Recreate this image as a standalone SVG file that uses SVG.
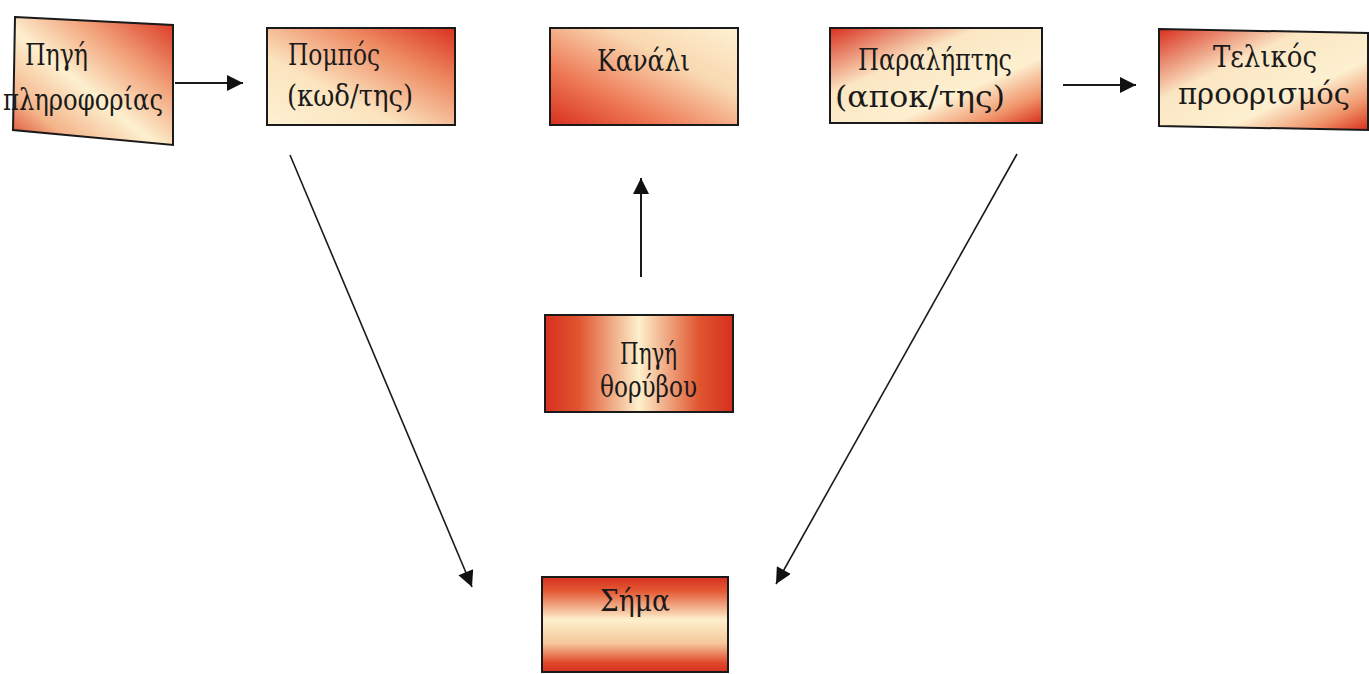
<svg xmlns="http://www.w3.org/2000/svg" width="1369" height="674" viewBox="0 0 1369 674">
  <defs>
    <style>
      .box { stroke: #1a1a1a; stroke-width: 2; }
      .lbl { font-family: "DejaVu Serif", "Liberation Serif", serif; font-stretch: condensed; font-size: 29px; fill: #1a1a1a; }
      .link { stroke: #1a1a1a; fill: none; }
    </style>
    <marker id="arrow" viewBox="0 0 10 10" refX="10" refY="5" markerWidth="17" markerHeight="16" markerUnits="userSpaceOnUse" orient="auto">
      <path d="M0,0 L10,5 L0,10 Z" fill="#111"/>
    </marker>
    <!-- red corners top-right and bottom-left, cream diagonal band -->
    <linearGradient id="gSource" x1="1" y1="0" x2="0" y2="1">
      <stop offset="0" stop-color="#d8321f"/>
      <stop offset="0.3" stop-color="#f2a27a"/>
      <stop offset="0.55" stop-color="#fdf0cf"/>
      <stop offset="0.8" stop-color="#f4b48a"/>
      <stop offset="1" stop-color="#d9442a"/>
    </linearGradient>
    <!-- red top-right fading to cream bottom-left -->
    <linearGradient id="gSender" x1="1" y1="0" x2="0" y2="1">
      <stop offset="0" stop-color="#d9321f"/>
      <stop offset="0.3" stop-color="#ee8a62"/>
      <stop offset="0.65" stop-color="#fbe4bf"/>
      <stop offset="1" stop-color="#fdf1d2"/>
    </linearGradient>
    <!-- cream top-right to red bottom-left -->
    <linearGradient id="gChannel" x1="1" y1="0" x2="0" y2="1">
      <stop offset="0" stop-color="#fdf1d2"/>
      <stop offset="0.35" stop-color="#f9d8b0"/>
      <stop offset="0.7" stop-color="#ee7a55"/>
      <stop offset="1" stop-color="#d8301e"/>
    </linearGradient>
    <!-- red top-left and bottom-right, cream between -->
    <linearGradient id="gDiag" x1="0" y1="0" x2="1" y2="1">
      <stop offset="0" stop-color="#d8301e"/>
      <stop offset="0.35" stop-color="#fbe6c3"/>
      <stop offset="0.65" stop-color="#fdf0d0"/>
      <stop offset="0.85" stop-color="#f0946a"/>
      <stop offset="1" stop-color="#d8301e"/>
    </linearGradient>
    <!-- red sides, cream centre column -->
    <linearGradient id="gNoise" x1="0" y1="0" x2="1" y2="0">
      <stop offset="0" stop-color="#d6301e"/>
      <stop offset="0.18" stop-color="#e0552f"/>
      <stop offset="0.5" stop-color="#fdf0cc"/>
      <stop offset="0.82" stop-color="#e0552f"/>
      <stop offset="1" stop-color="#d6301e"/>
    </linearGradient>
    <!-- red top and bottom, cream centre row -->
    <linearGradient id="gSignal" x1="0" y1="0" x2="0" y2="1">
      <stop offset="0" stop-color="#d6301e"/>
      <stop offset="0.15" stop-color="#e45a35"/>
      <stop offset="0.45" stop-color="#fdf0cc"/>
      <stop offset="0.7" stop-color="#f6c79a"/>
      <stop offset="0.9" stop-color="#e04a2c"/>
      <stop offset="1" stop-color="#d6301e"/>
    </linearGradient>
  </defs>

  <rect width="1369" height="674" fill="#ffffff"/>

  <g id="connectors" marker-end="url(#arrow)">
    <line class="link" x1="175" y1="83" x2="243" y2="83" stroke-width="2"/>
    <line class="link" x1="1063" y1="85" x2="1136" y2="85" stroke-width="2"/>
    <line class="link" x1="641" y1="277" x2="641" y2="178" stroke-width="2"/>
    <line class="link" x1="290" y1="155" x2="472" y2="587" stroke-width="1.6"/>
    <line class="link" x1="1017" y1="154" x2="776" y2="584" stroke-width="1.6"/>
  </g>

  <g id="node-source">
    <polygon class="box" points="15,17 173,25 173,145 13,130" fill="url(#gSource)"/>
    <text class="lbl" x="25" y="65" textLength="63" lengthAdjust="spacingAndGlyphs">Πηγή</text>
    <text class="lbl" x="3" y="110" textLength="160" lengthAdjust="spacingAndGlyphs">πληροφορίας</text>
  </g>

  <g id="node-sender">
    <rect class="box" x="267" y="28" width="188" height="97" fill="url(#gSender)"/>
    <text class="lbl" x="288" y="65" textLength="92" lengthAdjust="spacingAndGlyphs">Πομπός</text>
    <text class="lbl" x="287" y="106" textLength="126" lengthAdjust="spacingAndGlyphs">(κωδ/της)</text>
  </g>

  <g id="node-channel">
    <rect class="box" x="550" y="28" width="188" height="97" fill="url(#gChannel)"/>
    <text class="lbl" x="597" y="71" textLength="93" lengthAdjust="spacingAndGlyphs">Κανάλι</text>
  </g>

  <g id="node-receiver">
    <rect class="box" x="830" y="28" width="212" height="95" fill="url(#gDiag)"/>
    <text class="lbl" x="858" y="70" textLength="154" lengthAdjust="spacingAndGlyphs">Παραλήπτης</text>
    <text class="lbl" x="835" y="107" textLength="170" lengthAdjust="spacingAndGlyphs">(αποκ/της)</text>
  </g>

  <g id="node-destination">
    <polygon class="box" points="1159,29 1368,33 1368,130 1159,126" fill="url(#gDiag)"/>
    <text class="lbl" x="1213" y="67" textLength="104" lengthAdjust="spacingAndGlyphs">Τελικός</text>
    <text class="lbl" x="1178" y="104" textLength="172" lengthAdjust="spacingAndGlyphs">προορισμός</text>
  </g>

  <g id="node-noise">
    <rect class="box" x="545" y="315" width="188" height="97" fill="url(#gNoise)"/>
    <text class="lbl" x="620" y="364" textLength="57" lengthAdjust="spacingAndGlyphs">Πηγή</text>
    <text class="lbl" x="600" y="397" textLength="97" lengthAdjust="spacingAndGlyphs">θορύβου</text>
  </g>

  <g id="node-signal">
    <rect class="box" x="542" y="577" width="186" height="95" fill="url(#gSignal)"/>
    <text class="lbl" x="600" y="611" textLength="70" lengthAdjust="spacingAndGlyphs">Σήμα</text>
  </g>
</svg>
